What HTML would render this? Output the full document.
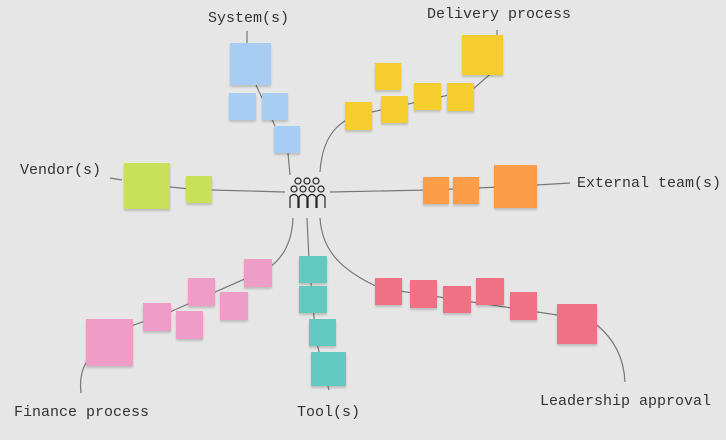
<!DOCTYPE html>
<html><head><style>
body{margin:0;background:#e6e6e6;}
.w{position:relative;width:726px;height:440px;overflow:hidden;background:#e6e6e6;font-family:"Liberation Mono",monospace;}
.n{position:absolute;box-shadow:0 2px 2px rgba(0,0,0,.18);}
.b{background:#a8cdf4}.y{background:#f5cd2d}.o{background:#fd9d48}.g{background:#c9e15a}.p{background:#ee9dc6}.t{background:#64c9c1}.r{background:#f07183}
.l{position:absolute;font-size:15px;color:#333;white-space:nowrap}
svg{position:absolute;left:0;top:0}
</style></head><body><div class="w">
<svg width="726" height="440" fill="none" stroke="#777" stroke-width="1.2">
<path d="M247 31 V43 M256 85 L275 126 M288 153 L290 175"/>
<path d="M320 172 C322 140 335 122 358 115 L472 90 L495 70 M497 30 V35"/>
<path d="M170 187 L190 189 M212 190 L285 192 M122 180 L110 178"/>
<path d="M330 192 L430 190 L500 187 M537 185 L570 183"/>
<path d="M293 218 C292 245 280 262 265 270 L170 312 L120 330 M88 360 C80 370 80 385 81 393"/>
<path d="M307 218 L309 260 L316 340 L329 390"/>
<path d="M320 218 C322 250 340 270 380 288 L590 320 M597 325 C615 340 624 360 625 382"/>
</svg>
<div class="n b" style="left:230px;top:43px;width:41px;height:42px"></div>
<div class="n b" style="left:229px;top:93px;width:27px;height:27px"></div>
<div class="n b" style="left:262px;top:93px;width:26px;height:27px"></div>
<div class="n b" style="left:274px;top:126px;width:26px;height:27px"></div>
<div class="n y" style="left:375px;top:63px;width:26px;height:27px"></div>
<div class="n y" style="left:345px;top:102px;width:27px;height:28px"></div>
<div class="n y" style="left:381px;top:96px;width:27px;height:27px"></div>
<div class="n y" style="left:414px;top:83px;width:27px;height:27px"></div>
<div class="n y" style="left:447px;top:83px;width:27px;height:28px"></div>
<div class="n y" style="left:462px;top:35px;width:41px;height:40px"></div>
<div class="n o" style="left:423px;top:177px;width:26px;height:27px"></div>
<div class="n o" style="left:453px;top:177px;width:26px;height:27px"></div>
<div class="n o" style="left:494px;top:165px;width:43px;height:43px"></div>
<div class="n g" style="left:124px;top:163px;width:46px;height:46px"></div>
<div class="n g" style="left:186px;top:176px;width:26px;height:27px"></div>
<div class="n p" style="left:86px;top:319px;width:47px;height:47px"></div>
<div class="n p" style="left:143px;top:303px;width:28px;height:28px"></div>
<div class="n p" style="left:176px;top:311px;width:27px;height:28px"></div>
<div class="n p" style="left:188px;top:278px;width:27px;height:28px"></div>
<div class="n p" style="left:220px;top:292px;width:28px;height:28px"></div>
<div class="n p" style="left:244px;top:259px;width:28px;height:28px"></div>
<div class="n t" style="left:299px;top:256px;width:28px;height:27px"></div>
<div class="n t" style="left:299px;top:286px;width:28px;height:27px"></div>
<div class="n t" style="left:309px;top:319px;width:27px;height:27px"></div>
<div class="n t" style="left:311px;top:352px;width:35px;height:34px"></div>
<div class="n r" style="left:375px;top:278px;width:27px;height:27px"></div>
<div class="n r" style="left:410px;top:280px;width:27px;height:28px"></div>
<div class="n r" style="left:443px;top:286px;width:28px;height:27px"></div>
<div class="n r" style="left:476px;top:278px;width:28px;height:27px"></div>
<div class="n r" style="left:510px;top:292px;width:27px;height:28px"></div>
<div class="n r" style="left:557px;top:304px;width:40px;height:40px"></div>
<svg width="726" height="440" fill="none" stroke="#222" stroke-width="1.2">
<g>
<circle cx="298" cy="181" r="3"/><circle cx="307" cy="181" r="3"/><circle cx="316" cy="181" r="3"/>
<circle cx="294" cy="189" r="3"/><circle cx="303" cy="189" r="3"/><circle cx="312" cy="189" r="3"/><circle cx="321" cy="189" r="3"/>
<path d="M290 208 V197 Q294 192 298 197 V208 M299 208 V197 Q303 192 307 197 V208 M308 208 V197 Q312 192 316 197 V208 M317 208 V197 Q321 192 325 197 V208"/>
</g></svg>
<div class="l" style="left:208px;top:10px">System(s)</div>
<div class="l" style="left:427px;top:6px">Delivery process</div>
<div class="l" style="left:20px;top:162px">Vendor(s)</div>
<div class="l" style="left:577px;top:175px">External team(s)</div>
<div class="l" style="left:14px;top:404px">Finance process</div>
<div class="l" style="left:297px;top:404px">Tool(s)</div>
<div class="l" style="left:540px;top:393px">Leadership approval</div>
</div></body></html>
